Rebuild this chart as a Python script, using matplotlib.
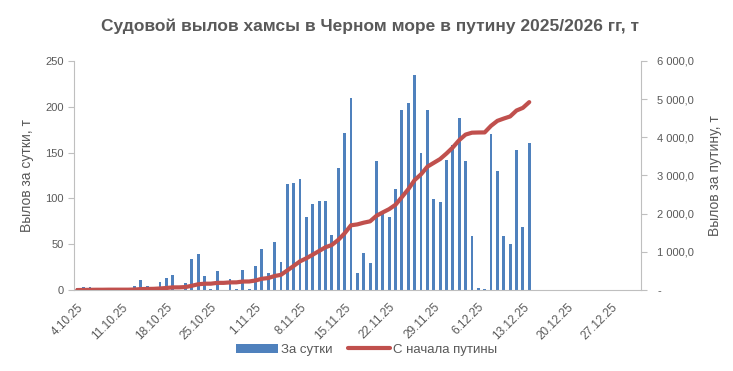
import matplotlib
matplotlib.use("Agg")
import matplotlib.pyplot as plt
import numpy as np

plt.rcParams['font.family'] = ['Liberation Sans', 'DejaVu Sans']

# вылов за сутки, т (4.10.25 ... 14.12.25)
daily = [2, 3, 3, 2, 0, 2, 0, 0, 0, 4,
         11, 4, 3, 9, 13, 16, 0, 8, 34, 39,
         15, 1, 21, 0, 12, 1, 22, 1, 26, 45,
         19, 53, 31, 116, 117, 121, 80, 94, 97, 97,
         60, 133, 171, 210, 19, 40, 30, 141, 84, 80,
         110, 196, 204, 235, 150, 196, 99, 96, 142, 158,
         188, 141, 59, 2, 1, 170, 130, 59, 50, 153,
         69, 160]

# вылов с начала путины, т
cumul = [2, 5, 8, 10, 10, 12, 12, 12, 12, 16,
         27, 31, 34, 43, 56, 72, 72, 80, 114, 153,
         168, 169, 190, 190, 202, 203, 225, 226, 252, 297,
         316, 369, 400, 516, 633, 754, 834, 928, 1025, 1122,
         1182, 1315, 1486, 1696, 1720, 1765, 1800, 1945, 2035, 2120,
         2235, 2435, 2640, 2880, 3030, 3230, 3330, 3430, 3575, 3735,
         3925, 4070, 4120, 4125, 4127, 4300, 4430, 4490, 4545, 4700,
         4770, 4920]

tick_labels = ["4.10.25", "11.10.25", "18.10.25", "25.10.25", "1.11.25",
               "8.11.25", "15.11.25", "22.11.25", "29.11.25", "6.12.25",
               "13.12.25", "20.12.25", "27.12.25"]
n_cat = 89  # 4.10.25 - 31.12.25

gray = "#595959"
axis_gray = "#BFBFBF"
blue = "#4F81BD"
red = "#C0504D"

fig = plt.figure(figsize=(7.33, 3.71), dpi=100)
ax = fig.add_axes([0.101, 0.218, 0.773, 0.618])
ax2 = ax.twinx()

x = np.arange(len(daily))
bars = ax.bar(x, daily, width=0.45, color=blue, label="За сутки", zorder=2)
line, = ax2.plot(np.arange(len(cumul)), cumul, color=red, lw=3,
                 label="С начала путины", solid_capstyle="round")

ax.set_xlim(-0.5, n_cat - 0.5)
ax.set_ylim(0, 250)
ax.set_yticks(np.arange(0, 251, 50))
ax2.set_ylim(0, 6000)
ax2.set_yticks(np.arange(0, 6001, 1000))

def rub(v):
    if v == 0:
        return "-"
    return f"{v:,.1f}".replace(",", " ").replace(".", ",")

ax2.set_yticklabels([rub(v) for v in np.arange(0, 6001, 1000)])

ax.set_xticks(np.arange(0, n_cat, 7))
ax.set_xticklabels(tick_labels, rotation=45, ha="right", va="top",
                   rotation_mode="anchor")

for a in (ax, ax2):
    for s in a.spines.values():
        s.set_visible(False)
    a.tick_params(colors=gray, labelsize=8, length=4, width=0.8)
    a.tick_params(axis="y", color=axis_gray)
ax.spines["left"].set_visible(True)
ax.spines["left"].set_color(axis_gray)
ax.spines["bottom"].set_visible(True)
ax.spines["bottom"].set_color(axis_gray)
ax2.spines["right"].set_visible(True)
ax2.spines["right"].set_color(axis_gray)
ax.tick_params(axis="x", length=0, pad=8, labelsize=8.5)
ax2.tick_params(axis="y", pad=8)

ax.set_ylabel("Вылов за сутки, т", color=gray, fontsize=10, labelpad=8)
ax2.set_ylabel("Вылов за путину, т", color=gray, fontsize=10, rotation=90,
               labelpad=10)

fig.suptitle("Судовой вылов хамсы в Черном море в путину 2025/2026 гг, т",
             x=0.505, y=0.95, fontsize=12.5, fontweight="bold", color=gray)

fig.legend(handles=[bars, line], loc="center", bbox_to_anchor=(0.5, 0.057),
           ncol=2, frameon=False, fontsize=9.5, handlelength=3.2,
           columnspacing=1.2, handletextpad=0.2, labelcolor=gray)

fig.savefig("out.png", dpi=100)
